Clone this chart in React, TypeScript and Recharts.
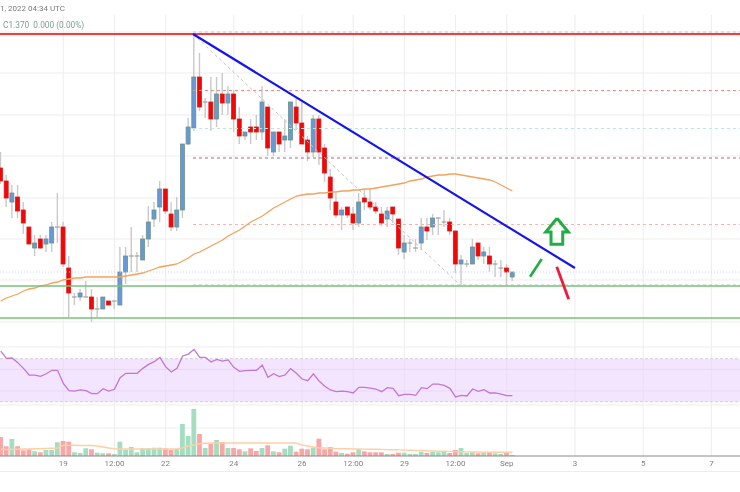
import {
  ComposedChart,
  Bar,
  Line,
  Cell,
  XAxis,
  YAxis,
  CartesianGrid,
  ReferenceLine,
  ReferenceArea,
} from 'recharts';

const firstBar = -11;

const highs = [
  1.490, 1.467, 1.457, 1.457, 1.440, 1.415, 1.407, 1.407, 1.407, 1.420,
  1.449, 1.420, 1.386, 1.349, 1.353, 1.361, 1.353, 1.345, 1.345, 1.341,
  1.341, 1.395, 1.395, 1.415, 1.390, 1.407, 1.436, 1.440, 1.461, 1.453,
  1.440, 1.445, 1.498, 1.524, 1.609, 1.589, 1.544, 1.565, 1.565, 1.569,
  1.556, 1.552, 1.535, 1.510, 1.523, 1.527, 1.556, 1.535, 1.510, 1.510,
  1.523, 1.540, 1.544, 1.540, 1.506, 1.527, 1.527, 1.498, 1.473, 1.449,
  1.435, 1.435, 1.435, 1.449, 1.452, 1.453, 1.440, 1.435, 1.435, 1.435,
  1.423, 1.407, 1.403, 1.403, 1.424, 1.424, 1.428, 1.424, 1.432, 1.424,
  1.411, 1.387, 1.382, 1.403, 1.399, 1.395, 1.395, 1.382, 1.382, 1.378,
  1.370,
];
const lows = [
  1.458, 1.435, 1.424, 1.424, 1.408, 1.398, 1.386, 1.393, 1.390, 1.390,
  1.399, 1.375, 1.325, 1.337, 1.341, 1.345, 1.320, 1.325, 1.333, 1.337,
  1.333, 1.337, 1.358, 1.370, 1.370, 1.382, 1.395, 1.415, 1.420, 1.428,
  1.411, 1.411, 1.424, 1.497, 1.511, 1.531, 1.524, 1.511, 1.515, 1.527,
  1.527, 1.510, 1.498, 1.502, 1.498, 1.502, 1.502, 1.486, 1.486, 1.490,
  1.490, 1.494, 1.512, 1.498, 1.481, 1.485, 1.477, 1.460, 1.432, 1.424,
  1.412, 1.424, 1.412, 1.415, 1.432, 1.432, 1.428, 1.416, 1.415, 1.419,
  1.387, 1.383, 1.390, 1.390, 1.392, 1.402, 1.407, 1.407, 1.415, 1.407,
  1.369, 1.357, 1.375, 1.378, 1.382, 1.378, 1.370, 1.365, 1.365, 1.357,
  1.361,
];
const opens = [
  1.474, 1.461, 1.440, 1.445, 1.432, 1.415, 1.394, 1.403, 1.398, 1.399,
  1.415, 1.415, 1.374, 1.345, 1.345, 1.345, 1.345, 1.333, 1.333, 1.341,
  1.341, 1.337, 1.370, 1.386, 1.386, 1.382, 1.403, 1.423, 1.435, 1.453,
  1.428, 1.415, 1.432, 1.498, 1.514, 1.565, 1.540, 1.540, 1.523, 1.548,
  1.539, 1.548, 1.523, 1.506, 1.515, 1.515, 1.510, 1.535, 1.490, 1.510,
  1.502, 1.502, 1.535, 1.519, 1.502, 1.490, 1.523, 1.494, 1.465, 1.440,
  1.427, 1.435, 1.428, 1.419, 1.444, 1.440, 1.435, 1.428, 1.423, 1.435,
  1.423, 1.390, 1.399, 1.394, 1.399, 1.415, 1.415, 1.424, 1.420, 1.420,
  1.411, 1.378, 1.378, 1.378, 1.399, 1.386, 1.386, 1.378, 1.374, 1.374,
  1.365,
];
const closes = [
  1.461, 1.444, 1.449, 1.431, 1.419, 1.398, 1.399, 1.394, 1.403, 1.415,
  1.415, 1.378, 1.349, 1.345, 1.349, 1.345, 1.333, 1.333, 1.345, 1.337,
  1.341, 1.370, 1.386, 1.386, 1.386, 1.403, 1.420, 1.432, 1.453, 1.431,
  1.415, 1.432, 1.498, 1.515, 1.565, 1.535, 1.540, 1.523, 1.548, 1.539,
  1.548, 1.523, 1.506, 1.510, 1.510, 1.510, 1.540, 1.494, 1.510, 1.498,
  1.506, 1.540, 1.519, 1.498, 1.490, 1.523, 1.490, 1.469, 1.444, 1.427,
  1.432, 1.427, 1.419, 1.440, 1.440, 1.435, 1.431, 1.419, 1.431, 1.428,
  1.394, 1.399, 1.399, 1.394, 1.415, 1.411, 1.424, 1.424, 1.420, 1.411,
  1.378, 1.382, 1.378, 1.395, 1.386, 1.390, 1.378, 1.378, 1.374, 1.370,
  1.370,
];
const priceMa = [
  1.341, 1.344, 1.346, 1.348, 1.351, 1.353, 1.354, 1.356, 1.357, 1.359,
  1.360, 1.362, 1.363, 1.364, 1.364, 1.365, 1.365, 1.365, 1.365, 1.365,
  1.365, 1.365, 1.366, 1.367, 1.368, 1.369, 1.371, 1.373, 1.375, 1.376,
  1.377, 1.378, 1.381, 1.384, 1.388, 1.390, 1.393, 1.396, 1.399, 1.402,
  1.406, 1.409, 1.412, 1.416, 1.420, 1.423, 1.426, 1.430, 1.434, 1.437,
  1.440, 1.443, 1.446, 1.447, 1.448, 1.448, 1.449, 1.449, 1.450, 1.450,
  1.451, 1.451, 1.452, 1.452, 1.453, 1.453, 1.454, 1.455, 1.456, 1.457,
  1.458, 1.459, 1.461, 1.462, 1.463, 1.465, 1.466, 1.467, 1.467, 1.468,
  1.468, 1.467, 1.466, 1.465, 1.464, 1.463, 1.462, 1.460, 1.457, 1.454,
  1.451,
];
const rsi = [
  77.1, 70.3, 70.6, 66.3, 61, 54.8, 54.8, 53.6, 56, 59.2,
  59.2, 47.1, 40.2, 39.9, 40.9, 40.2, 37.5, 37.5, 42.1, 39.9,
  41.5, 52.3, 56.4, 56.4, 56.4, 61, 64.7, 67.2, 71.2, 62.6,
  57.6, 61, 72.5, 74.3, 78.7, 71.2, 71.2, 66.9, 69.4, 67.8,
  68.8, 61.9, 58.2, 58.8, 59.2, 59.2, 64.1, 52.6, 56, 53.3,
  54.8, 60.7, 56.4, 51.1, 49.5, 56, 49.2, 44.3, 40.9, 39.3,
  39.9, 39.3, 38.1, 43.3, 43.3, 42.7, 41.8, 39.3, 43, 42.4,
  35.6, 36.8, 36.8, 35.9, 43, 42.1, 46.4, 46.4, 45.2, 42.4,
  34.4, 35.9, 35.3, 41.8, 39.6, 41.2, 38.1, 38.1, 37.1, 35.6,
  35.6,
];
const volumes = [
  19, 9.7, 17, 9.7, 5.7, 6.7, 4.7, 3.7, 6, 6,
  13.7, 15, 14.3, 3.7, 3, 7.7, 6.7, 3.3, 2.7, 2.7,
  2, 14.3, 6.3, 9, 3.7, 7.7, 7.7, 8.3, 8.3, 7.7,
  6, 7, 32, 20, 47, 22, 8, 12, 16, 14,
  8, 8, 6.7, 4.7, 7.7, 5, 8, 10.7, 4.7, 3.7,
  7.3, 10.3, 4.3, 7.3, 6.7, 8.3, 17.3, 6.7, 9, 4.3,
  3, 2.3, 3.7, 6.7, 4.7, 3.7, 3.7, 3.7, 2, 2,
  3.3, 3.3, 2, 2, 4.3, 3, 4, 3.7, 5, 3,
  6, 8, 3, 3.7, 2.7, 3.7, 3.7, 2.7, 2, 3,
  1,
];
const volumeMa = [
  6.5, 6.5, 6.5, 6.7, 7, 7, 7.2, 7.2, 7.5, 7.7,
  8, 10.7, 10.7, 10.7, 10.5, 10.5, 10.5, 10, 9, 8,
  7.3, 7, 7, 7, 7, 7, 7, 7, 7, 7,
  7, 7, 8.3, 10, 11, 12.3, 12.7, 13, 13, 13,
  13, 13, 13, 13, 13, 13, 13, 13, 13, 13,
  13, 13, 13, 11, 10, 9, 8.3, 8, 7.7, 7.3,
  7.2, 7.2, 7, 7, 6.9, 6.8, 6.7, 6.6, 6.4, 6.3,
  6.1, 5.9, 5.7, 5.6, 5.4, 5.2, 5, 4.8, 4.7, 4.6,
  4.4, 4.3, 4.1, 4, 4, 3.9, 3.9, 3.8, 3.8, 3.7,
  3.7,
];

const xTicks = [0, 9, 18, 30, 42, 51, 60, 69, 78, 90, 102, 114];
const xTickLabels = ['19', '12:00', '22', '24', '26', '12:00', '29', '12:00', 'Sep', '3', '5', '7'];

const priceGrid = [
  1.627, 1.610, 1.589, 1.569, 1.548, 1.527, 1.506, 1.486, 1.465, 1.444, 1.424,
  1.403, 1.383, 1.362, 1.341, 1.320, 1.299, 1.295, 1.237, 1.214,
];
const fibPrices = [1.610, 1.5515, 1.5135, 1.484, 1.4175, 1.357];
const fibColors = ['#a8d4ee', '#ee8a8a', '#b5ecd8', '#a86a7c', '#f6b4b4', '#c4c4c4'];
const arrowOutline = [
  { i: 86.85, p: 1.4237 },
  { i: 88.83, p: 1.41 },
  { i: 87.85, p: 1.41 },
  { i: 87.85, p: 1.3977 },
  { i: 85.79, p: 1.3977 },
  { i: 85.79, p: 1.41 },
  { i: 84.86, p: 1.41 },
  { i: 86.85, p: 1.4237 },
];

const rows = highs.map((high, n) => ({
  i: firstBar + n,
  high,
  low: lows[n],
  open: opens[n],
  close: closes[n],
  ma: priceMa[n],
  rsi: rsi[n],
  vol: volumes[n],
  volMa: volumeMa[n],
}));

const Candle = ({ x, y, width, height, payload }: any) => {
  const { high, low, open, close } = payload;
  const perUnit = height / (high - low);
  const top = y + (high - Math.max(open, close)) * perUnit;
  const bodyH = Math.abs(open - close) * perUnit;
  const mid = x + width / 2;
  const fill = close > open ? '#6699d8' : '#f00808';
  const edge = close > open ? '#6f9183' : '#e01818';
  return (
    <g>
      <line x1={mid} x2={mid} y1={y} y2={y + height} stroke="#c9c9c9" strokeWidth={1.4} />
      {open === close ? (
        <line x1={x} x2={x + width} y1={top} y2={top} stroke="#9aa39c" strokeWidth={1.2} />
      ) : (
        <rect x={x + 0.4} y={top} width={width - 0.8} height={bodyH} fill={fill} stroke={edge} strokeWidth={0.8} />
      )}
    </g>
  );
};

const labelFont = 'Roboto, sans-serif';

export default function App() {
  return (
    <div style={{ position: 'absolute', left: 0, top: 0, width: 740, height: 492, background: '#fff', overflow: 'hidden', filter: 'blur(0.35px)' }}>
      <ComposedChart width={740} height={492} data={rows} barGap={-4.8} margin={{ top: 15, right: 0, bottom: 0, left: 0 }}>
        <XAxis
          xAxisId="x"
          dataKey="i"
          type="number"
          domain={[-11.13, 119.03]}
          ticks={xTicks}
          tickFormatter={(v) => xTickLabels[xTicks.indexOf(v)]}
          height={36}
          tickLine={false}
          tickMargin={0}
          interval={0}
          stroke="#8a8a8a"
          tick={{ fill: '#808080', fontSize: 8, fontFamily: labelFont, dy: -2 }}
        />
        <YAxis yAxisId="price" hide domain={[1.186, 1.627]} />
        <YAxis yAxisId="rsi" hide domain={[-20.5, 389.6]} />
        <YAxis yAxisId="vol" hide domain={[0, 441]} />
        <CartesianGrid
          xAxisId="x"
          yAxisId="price"
          stroke="#ededed"
          strokeWidth={1}
          verticalValues={xTicks}
          horizontalValues={priceGrid}
        />

        <ReferenceArea xAxisId="x" yAxisId="rsi" y1={30} y2={70} fill="#e9d4fc" fillOpacity={0.6} stroke="none" />
        <ReferenceLine xAxisId="x" yAxisId="rsi" y={70} stroke="#d6cfd9" strokeDasharray="3 2" />
        <ReferenceLine xAxisId="x" yAxisId="rsi" y={30} stroke="#d6cfd9" strokeDasharray="3 2" />
        <ReferenceLine xAxisId="x" yAxisId="rsi" y={60} stroke="#ead9f6" />
        <ReferenceLine xAxisId="x" yAxisId="rsi" y={40} stroke="#ead9f6" />

        <ReferenceLine xAxisId="x" yAxisId="price" y={1.37} stroke="#c4d8f6" strokeDasharray="1 2" />
        {fibPrices.map((p, n) => (
          <ReferenceLine
            key={p}
            xAxisId="x"
            yAxisId="price"
            segment={[{ x: 22.81, y: p }, { x: 119.03, y: p }]}
            stroke={fibColors[n]}
            strokeDasharray="3 3"
          />
        ))}
        <ReferenceLine
          xAxisId="x"
          yAxisId="price"
          segment={[{ x: 22.81, y: 1.608 }, { x: 69.8, y: 1.357 }]}
          stroke="#c4c4c4"
          strokeDasharray="3 3"
        />

        <Bar xAxisId="x" yAxisId="vol" dataKey="vol" barSize={4.8} isAnimationActive={false}>
          {rows.map((r) => (
            <Cell key={r.i} fill={r.close >= r.open ? '#a6dcc0' : '#f8a6a6'} />
          ))}
        </Bar>
        <Bar
          xAxisId="x"
          yAxisId="price"
          dataKey={(d: any) => [d.low, d.high]}
          barSize={4.8}
          shape={Candle}
          isAnimationActive={false}
        />
        <Line xAxisId="x" yAxisId="price" dataKey="ma" stroke="#f4a25c" strokeWidth={1.3} dot={false} isAnimationActive={false} />
        <Line xAxisId="x" yAxisId="rsi" dataKey="rsi" stroke="#c077d8" strokeWidth={1.3} dot={false} isAnimationActive={false} />
        <Line xAxisId="x" yAxisId="vol" dataKey="volMa" stroke="#fdcfa4" strokeWidth={1.4} dot={false} isAnimationActive={false} />

        <ReferenceLine xAxisId="x" yAxisId="price" y={1.608} stroke="#fb3a3a" strokeWidth={1.8} />
        <ReferenceLine xAxisId="x" yAxisId="price" y={1.356} stroke="#76c27a" strokeWidth={1.5} />
        <ReferenceLine xAxisId="x" yAxisId="price" y={1.324} stroke="#76c27a" strokeWidth={1.7} />
        <ReferenceLine
          xAxisId="x"
          yAxisId="price"
          segment={[{ x: 22.81, y: 1.608 }, { x: 90, y: 1.374 }]}
          stroke="#1414ee"
          strokeWidth={2.2}
        />
        <ReferenceLine
          xAxisId="x"
          yAxisId="price"
          segment={[{ x: 82.1, y: 1.3653 }, { x: 84.15, y: 1.383 }]}
          stroke="#22ac44"
          strokeWidth={2.6}
        />
        <ReferenceLine
          xAxisId="x"
          yAxisId="price"
          segment={[{ x: 86.8, y: 1.3753 }, { x: 88.9, y: 1.3427 }]}
          stroke="#ee1c3c"
          strokeWidth={2.8}
        />
        <Line
          xAxisId="x"
          yAxisId="price"
          data={arrowOutline}
          dataKey="p"
          stroke="#22ac44"
          strokeWidth={3}
          dot={false}
          isAnimationActive={false}
        />
      </ComposedChart>

      <div style={{ position: 'absolute', left: 0, top: 3.5, fontFamily: labelFont, fontSize: 8, color: '#7a7a7a', whiteSpace: 'nowrap' }}>
        1, 2022 04:34 UTC
      </div>
      <div style={{ position: 'absolute', left: 3, top: 19.5, fontFamily: labelFont, fontSize: 8.3, color: '#7f9c90', whiteSpace: 'nowrap' }}>
        C1.370&nbsp;&nbsp;0.000 (0.00%)
      </div>
      <div style={{ position: 'absolute', left: 0, top: 471, width: 740, height: 1, background: '#ededed' }} />
    </div>
  );
}
